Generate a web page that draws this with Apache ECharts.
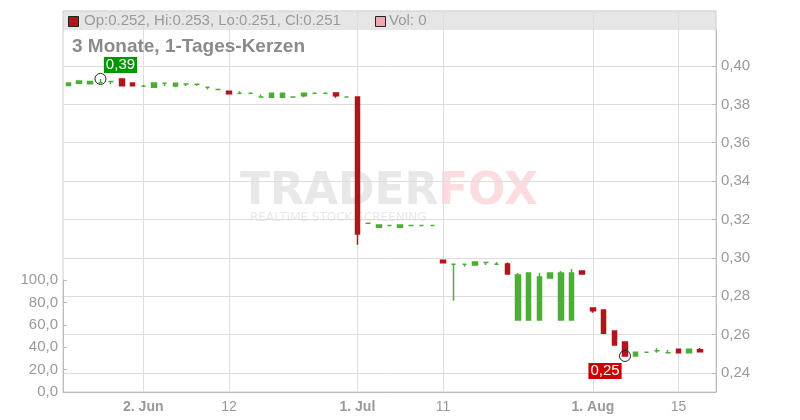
<!DOCTYPE html>
<html><head><meta charset="utf-8">
<script src="https://cdn.jsdelivr.net/npm/echarts@6/dist/echarts.min.js"></script>
<style>html,body{margin:0;padding:0;background:#fff}#c{width:800px;height:420px}</style>
</head><body><div id="c"></div>
<script>
// ---- data ----
const categories = [
'2025-05-22','2025-05-23','2025-05-26','2025-05-27','2025-05-28','2025-05-29','2025-05-30',
'2025-06-02','2025-06-03','2025-06-04','2025-06-05','2025-06-06','2025-06-09','2025-06-10','2025-06-11','2025-06-12',
'2025-06-13','2025-06-16','2025-06-17','2025-06-18','2025-06-20','2025-06-23','2025-06-24','2025-06-25','2025-06-26','2025-06-27','2025-06-30',
'2025-07-01','2025-07-02','2025-07-03','2025-07-04','2025-07-07','2025-07-08','2025-07-09','2025-07-10','2025-07-11',
'2025-07-14','2025-07-15','2025-07-16','2025-07-17','2025-07-18','2025-07-21','2025-07-23','2025-07-24','2025-07-25','2025-07-28','2025-07-29','2025-07-30','2025-07-31',
'2025-08-01','2025-08-04','2025-08-05','2025-08-06','2025-08-07','2025-08-11','2025-08-12','2025-08-14','2025-08-15',
'2025-08-18','2025-08-19','2025-08-20'];
const opens  = [0.3899,0.3910,0.3908,0.3913,0.3920,0.3932,0.3911,0.3894,0.3889,0.3910,0.3896,0.3906,0.3905,0.3889,0.3878,0.3868,0.3858,0.3858,0.3838,0.3837,0.3837,0.3838,0.3845,0.3858,0.3858,0.3859,0.3838,0.3838,0.3180,0.3159,0.3169,0.3159,0.3169,0.3169,0.3169,0.2987,0.2966,0.2966,0.2962,0.2976,0.2966,0.2967,0.2675,0.2675,0.2675,0.2894,0.2675,0.2675,0.2931,0.2738,0.2728,0.2618,0.2561,0.2488,0.2507,0.2515,0.2505,0.2523,0.2505,0.2520];
const closes = [0.3911,0.3922,0.3920,0.3913,0.3920,0.3897,0.3897,0.3894,0.3911,0.3910,0.3910,0.3906,0.3905,0.3889,0.3878,0.3856,0.3858,0.3858,0.3838,0.3858,0.3858,0.3838,0.3858,0.3858,0.3858,0.3845,0.3838,0.3124,0.3180,0.3171,0.3169,0.3171,0.3169,0.3169,0.3169,0.2974,0.2966,0.2966,0.2978,0.2976,0.2966,0.2915,0.2910,0.2920,0.2900,0.2920,0.2920,0.2920,0.2915,0.2724,0.2606,0.2545,0.2488,0.2507,0.2507,0.2515,0.2505,0.2505,0.2523,0.2510];
const lows   = [0.3899,0.3910,0.3908,0.3913,0.3906,0.3897,0.3897,0.3894,0.3889,0.3896,0.3889,0.3896,0.3896,0.3878,0.3878,0.3856,0.3858,0.3858,0.3838,0.3837,0.3837,0.3838,0.3837,0.3858,0.3858,0.3835,0.3838,0.3068,0.3180,0.3159,0.3169,0.3159,0.3169,0.3169,0.3169,0.2974,0.2776,0.2953,0.2962,0.2962,0.2966,0.2915,0.2675,0.2675,0.2675,0.2894,0.2675,0.2675,0.2915,0.2713,0.2606,0.2545,0.2488,0.2488,0.2507,0.2505,0.2505,0.2505,0.2505,0.2510];
const highs  = [0.3911,0.3922,0.3920,0.3933,0.3920,0.3932,0.3911,0.3902,0.3911,0.3910,0.3910,0.3906,0.3905,0.3889,0.3878,0.3868,0.3868,0.3858,0.3852,0.3858,0.3858,0.3838,0.3858,0.3858,0.3858,0.3859,0.3838,0.3838,0.3180,0.3171,0.3169,0.3171,0.3169,0.3169,0.3169,0.2987,0.2966,0.2966,0.2978,0.2976,0.2978,0.2976,0.2920,0.2920,0.2920,0.2920,0.2931,0.2941,0.2931,0.2738,0.2728,0.2618,0.2561,0.2507,0.2507,0.2528,0.2519,0.2523,0.2523,0.2530];
const volumes = new Array(opens.length).fill(0);
const tickLabels = {'2025-06-02':'2. Jun','2025-06-12':'12','2025-07-01':'1. Jul','2025-07-11':'11','2025-08-01':'1. Aug','2025-08-15':'15'};
const monthTicks = ['2025-06-02','2025-07-01','2025-08-01'];
const titleText = '3 Monate, 1-Tages-Kerzen';

// ---- chart ----
const UP = '#4cad37', DOWN = '#b3141b';
const FONT = '"Liberation Sans", Arial, sans-serif';
const candleData = opens.map((o, i) => [o, closes[i], lows[i], highs[i]]);
let hiIdx = 0, loIdx = 0;
highs.forEach((h, i) => { if (h > highs[hiIdx]) hiIdx = i; });
lows.forEach((l, i) => { if (l < lows[loIdx]) loIdx = i; });
const last = opens.length - 1;
const fmt = (v, d) => v.toFixed(d).replace('.', ',');
const isTick = (i, v) => Object.prototype.hasOwnProperty.call(tickLabels, v);

const chart = echarts.init(document.getElementById('c'), null, {renderer: 'canvas'});
chart.setOption({
  animation: false,
  grid: [
    {left: 63, right: 84, top: 11, bottom: 28, show: true, borderColor: '#cccccc', borderWidth: 1},
    {left: 63, right: 84, top: 30, bottom: 28},
    {left: 63, right: 84, top: 280, bottom: 28}
  ],
  xAxis: [
    {gridIndex: 0, type: 'category', data: categories, boundaryGap: true,
     axisLine: {lineStyle: {color: '#bbbbbb'}}, axisTick: {show: false},
     axisLabel: {interval: isTick, margin: 8, color: '#999', fontSize: 14, fontFamily: FONT,
       formatter: v => monthTicks.includes(v) ? '{b|' + tickLabels[v] + '}' : tickLabels[v],
       rich: {b: {fontWeight: 'bold', color: '#999', fontSize: 14, fontFamily: FONT}}},
     splitLine: {show: true, interval: isTick, alignWithLabel: true, lineStyle: {color: '#dedede'}}},
    {gridIndex: 1, type: 'category', data: categories, boundaryGap: true, show: false},
    {gridIndex: 2, type: 'category', data: categories, boundaryGap: true, show: false}
  ],
  yAxis: [
    {gridIndex: 0, type: 'value', show: false},
    {gridIndex: 1, type: 'value', position: 'right', min: 0.23, max: 0.4188, splitNumber: 10,
     axisLine: {show: true, lineStyle: {color: '#bbbbbb'}},
     axisTick: {show: true, inside: true, length: 4, lineStyle: {color: '#bbbbbb'}},
     axisLabel: {margin: 5, color: '#9a9a9a', fontSize: 15, fontFamily: FONT, showMinLabel: false, showMaxLabel: false,
       formatter: v => fmt(v, 2)},
     splitLine: {show: true, showMinLine: false, showMaxLine: false, lineStyle: {color: '#dedede'}}},
    {gridIndex: 2, type: 'value', position: 'left', min: 0, max: 100, interval: 20,
     axisLine: {show: true, lineStyle: {color: '#bbbbbb'}},
     axisTick: {show: true, inside: true, length: 4, lineStyle: {color: '#bbbbbb'}},
     axisLabel: {margin: 5, color: '#9a9a9a', fontSize: 15, fontFamily: FONT, formatter: v => fmt(v, 1)},
     splitLine: {show: false}}
  ],
  series: [
    {type: 'bar', xAxisIndex: 2, yAxisIndex: 2, data: volumes, barWidth: 5, itemStyle: {color: '#f0a8b0'}, silent: true},
    {type: 'candlestick', xAxisIndex: 1, yAxisIndex: 1, data: candleData, barWidth: 5, z: 3, silent: true,
     itemStyle: {color: UP, color0: DOWN, borderColor: UP, borderColor0: DOWN, borderColorDoji: UP, borderWidth: 1.5}},
    {type: 'scatter', xAxisIndex: 1, yAxisIndex: 1, symbol: 'circle', symbolSize: 11, z: 6, silent: true,
     itemStyle: {color: 'rgba(255,255,255,0)', borderColor: '#222', borderWidth: 1, opacity: 1},
     label: {show: true, position: 'inside', color: '#fff', fontSize: 15, fontFamily: FONT, padding: [1, 2, 0, 2],
       formatter: p => fmt(p.value[1], 2)},
     data: [
       {value: [categories[hiIdx], highs[hiIdx]], label: {offset: [20, -14], backgroundColor: '#009600'}},
       {value: [categories[loIdx], lows[loIdx]], label: {offset: [-20, 15], backgroundColor: '#cc0000'}}
     ]}
  ],
  graphic: [
    {type: 'rect', z: -10, silent: true, shape: {x: 63, y: 11, width: 653, height: 19}, style: {fill: '#e6e6e6'}},
    {type: 'text', z: -5, silent: true, x: 240, y: 193, style: {text: 'TRADER', fill: '#e8e8e8', font: 'bold 44px "DejaVu Sans"', verticalAlign: 'middle'}},
    {type: 'text', z: -5, silent: true, x: 438, y: 193, style: {text: 'FOX', fill: '#fbdde0', font: 'bold 44px "DejaVu Sans"', verticalAlign: 'middle'}},
    {type: 'text', z: -5, silent: true, x: 250, y: 218, style: {text: 'REALTIME STOCK SCREENING', fill: '#e8e8e8', font: '12px "DejaVu Sans"', verticalAlign: 'middle'}},
    {type: 'rect', z: 10, silent: true, shape: {x: 68.5, y: 16.5, width: 10, height: 10}, style: {fill: DOWN, stroke: '#222', lineWidth: 1}},
    {type: 'text', z: 10, silent: true, x: 84, y: 21, style: {
      text: 'Op:' + opens[last].toFixed(3) + ', Hi:' + highs[last].toFixed(3) + ', Lo:' + lows[last].toFixed(3) + ', Cl:' + closes[last].toFixed(3),
      fill: '#9a9a9a', font: '15px ' + FONT, verticalAlign: 'middle'}},
    {type: 'rect', z: 10, silent: true, shape: {x: 375.5, y: 16.5, width: 10, height: 10}, style: {fill: '#f0a8b0', stroke: '#222', lineWidth: 1}},
    {type: 'text', z: 10, silent: true, x: 389, y: 21, style: {text: 'Vol: ' + volumes[last], fill: '#9a9a9a', font: '15px ' + FONT, verticalAlign: 'middle'}},
    {type: 'text', z: 10, silent: true, x: 72, y: 47, style: {text: titleText, fill: '#8a8a8a', font: 'bold 19px ' + FONT, verticalAlign: 'middle'}}
  ]
});
</script>
</body></html>
